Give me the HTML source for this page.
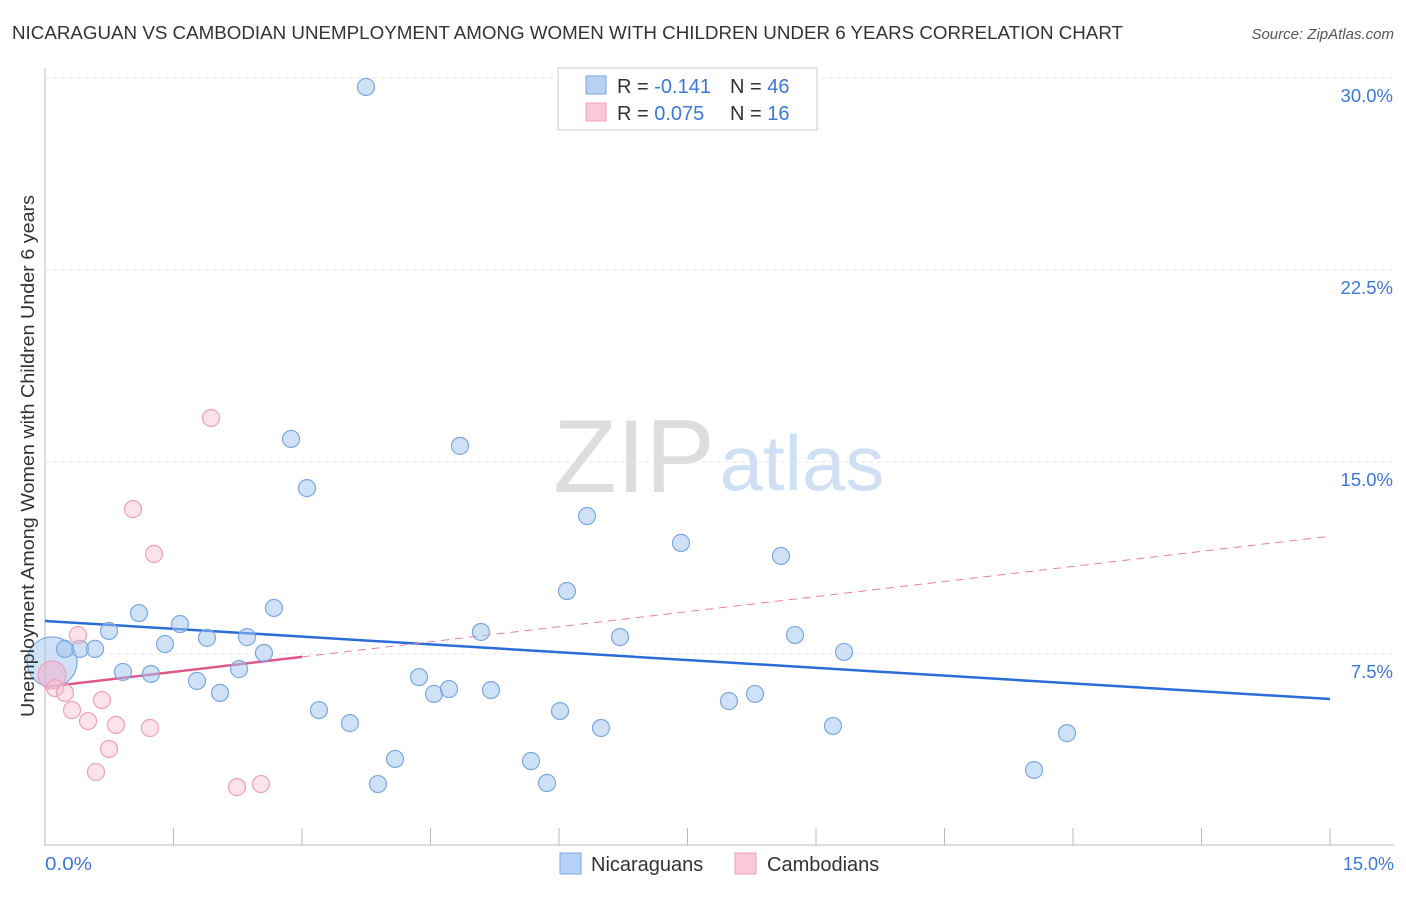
<!DOCTYPE html>
<html><head><meta charset="utf-8"><style>
body{margin:0;background:#fff;font-family:"Liberation Sans",sans-serif;}
svg text{font-family:"Liberation Sans",sans-serif;}
</style></head><body>
<svg id="chart" width="1406" height="892">
<text x="12" y="39" font-size="18" fill="#333" textLength="1111" lengthAdjust="spacingAndGlyphs">NICARAGUAN VS CAMBODIAN UNEMPLOYMENT AMONG WOMEN WITH CHILDREN UNDER 6 YEARS CORRELATION CHART</text>
<text x="1394" y="39" font-size="15" fill="#555" font-style="italic" text-anchor="end">Source: ZipAtlas.com</text>
<g>
<text x="634" y="492" font-size="104" font-family="Liberation Serif" fill="#ddd" text-anchor="middle">ZIP</text>
<text x="802" y="490" font-size="78" fill="#d0e0f4" text-anchor="middle">atlas</text>
</g>
<g id="grid"></g><g id="axes"></g><g id="trends"></g><g id="points"></g>
<text transform="translate(34,456) rotate(-90)" font-size="18" fill="#333" text-anchor="middle" textLength="522" lengthAdjust="spacingAndGlyphs">Unemployment Among Women with Children Under 6 years</text>
<text x="45" y="870" font-size="18" fill="#3b78d8" textLength="47" lengthAdjust="spacingAndGlyphs">0.0%</text>
<text x="1394" y="870" font-size="18" fill="#3b78d8" text-anchor="end">15.0%</text>
<g>
<rect x="558" y="68" width="259" height="62" fill="#fff" stroke="#ccc"/>
<rect x="586" y="76" width="20" height="18" fill="#b7d1f5" stroke="#7aa8e0"/>
<rect x="586" y="103" width="20" height="18" fill="#f9c9d8" stroke="#f0a0b8"/>
<text x="617" y="93" font-size="20" fill="#333">R = <tspan fill="#3b78d8">-0.141</tspan><tspan x="730">N = </tspan><tspan fill="#3b78d8">46</tspan></text>
<text x="617" y="120" font-size="20" fill="#333">R = <tspan fill="#3b78d8">0.075</tspan><tspan x="730">N = </tspan><tspan fill="#3b78d8"> 16</tspan></text>
</g>
<g>
<rect x="560" y="853" width="21" height="21" fill="#b7d1f5" stroke="#7aa8e0"/>
<text x="591" y="871" font-size="20" fill="#333">Nicaraguans</text>
<rect x="735" y="853" width="21" height="21" fill="#f9c9d8" stroke="#f0a0b8"/>
<text x="767" y="871" font-size="20" fill="#333">Cambodians</text>
</g>
</svg>
<script>
const yTicks=[7.5,15,22.5,30];
const yTickLabels=["7.5%","15.0%","22.5%","30.0%"];
const nicX=[3.747,2.872,4.844,3.058,6.327,7.424,8.591,6.093,1.097,2.673,1.576,0.747,5.089,1.891,2.358,6.712,8.755,1.401,0.409,0.584,0.233,2.556,9.327,0.910,1.237,2.265,1.774,4.366,2.043,4.541,4.716,5.206,7.984,8.288,3.198,6.012,3.560,6.490,9.198,11.930,4.086,5.673,11.545,3.887,5.860];
const nicY=[29.65,15.90,15.63,13.98,12.89,11.84,11.33,9.96,9.10,9.30,8.67,8.40,8.36,8.13,8.16,8.16,8.24,7.89,7.70,7.70,7.70,7.54,7.58,6.80,6.72,6.91,6.45,6.60,5.98,5.94,6.13,6.09,5.66,5.94,5.31,5.27,4.80,4.61,4.69,4.41,3.40,3.32,2.97,2.42,2.46];
const nicBigX=[0.082], nicBigY=[7.19];
const camX=[1.938,1.027,1.272,0.385,0.117,0.233,0.665,0.315,0.502,0.829,1.226,0.747,0.595,2.241,2.521];
const camY=[16.72,13.16,11.41,8.24,6.17,5.98,5.70,5.31,4.88,4.73,4.61,3.79,2.89,2.30,2.42];
const camBigX=[0.082], camBigY=[6.68];
const nicTrend=[8.79,5.74];
const camTrend=[6.21,12.1];
const camSolidEnd=3.0;
const X0=45,X1=1330,Y0=846,PPY=192/7.5;
const sx=v=>X0+(X1-X0)*v/15, sy=v=>Y0-v*PPY;
const NS="http://www.w3.org/2000/svg";
function mk(tag,attrs,parent){const e=document.createElementNS(NS,tag);for(const k in attrs)e.setAttribute(k,attrs[k]);document.getElementById(parent).appendChild(e);return e;}
yTicks.forEach((t,i)=>{
 const l=mk('line',{x1:45,x2:1394,y1:sy(t),y2:sy(t),stroke:'#e6e6e6','stroke-dasharray':'4,4'},'grid');
 
 
 const tx=mk('text',{x:1393,y:sy(t)+24,'font-size':18.5,fill:'#3b78d8','text-anchor':'end'},'grid');
 tx.textContent=yTickLabels[i];
 
 
});
let a=mk('line',{x1:45,x2:45,y1:68,y2:846,stroke:'#bbb'},'axes');


a=mk('line',{x1:45,x2:1394,y1:845,y2:845,stroke:'#bbb'},'axes');


for(let i=1;i<=10;i++){const t=mk('line',{x1:sx(i*1.5),x2:sx(i*1.5),y1:828,y2:845,stroke:'#bbb'},'axes');
 
 }
let tl=mk('line',{x1:sx(0),y1:sy(nicTrend[0]),x2:sx(15),y2:sy(nicTrend[1]),stroke:'#2a6dd6','stroke-width':2.5},'trends');


const cy=v=>camTrend[0]+(camTrend[1]-camTrend[0])*v/15;
tl=mk('line',{x1:sx(camSolidEnd),y1:sy(cy(camSolidEnd)),x2:sx(15),y2:sy(camTrend[1]),stroke:'#e87fa0','stroke-width':1,'stroke-dasharray':'8,6'},'trends');


tl=mk('line',{x1:sx(0),y1:sy(camTrend[0]),x2:sx(camSolidEnd),y2:sy(cy(camSolidEnd)),stroke:'#e0578a','stroke-width':2.5},'trends');


function pts(xs,ys,r,fill,stroke,name){xs.forEach((x,i)=>{
 const c=mk('circle',{cx:sx(x),cy:sy(ys[i]),r:r,fill:fill,stroke:stroke,'stroke-width':1.2},'points');
 
 });}
pts(nicBigX,nicBigY,25,'rgba(160,196,240,0.5)','#7aa8e0','nicaraguan-point');
pts(camBigX,camBigY,14,'rgba(245,175,200,0.5)','#f0a0b8','cambodian-point');
pts(nicX,nicY,8.5,'rgba(160,196,240,0.5)','#7aa8e0','nicaraguan-point');
pts(camX,camY,8.5,'rgba(248,190,210,0.45)','#f0a0b8','cambodian-point');
</script>
</body></html>
